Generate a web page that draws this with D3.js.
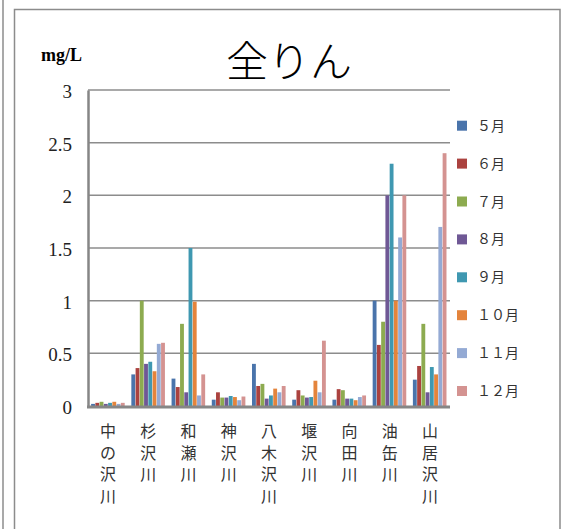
<!DOCTYPE html>
<html>
<head>
<meta charset="utf-8">
<script src="https://cdn.jsdelivr.net/npm/d3@7"></script>
<style>
  body { margin: 0; background: #fff; }
  svg { display: block; }
</style>
</head>
<body>
<svg id="chart" width="562" height="529"></svg>
<script>
// 河川名（カテゴリ）
const rivers = ["中の沢川", "杉沢川", "和瀬川", "神沢川", "八木沢川", "堰沢川", "向田川", "油缶川", "山居沢川"];
const months = ["５月", "６月", "７月", "８月", "９月", "１０月", "１１月", "１２月"];
const yTicks = [0, 0.5, 1, 1.5, 2, 2.5, 3];

// 各月の値（河川順）
const may = [0.02, 0.30, 0.26, 0.06, 0.40, 0.06, 0.06, 1.00, 0.25];
const jun = [0.03, 0.36, 0.18, 0.13, 0.19, 0.15, 0.16, 0.58, 0.38];
const jul = [0.04, 1.00, 0.78, 0.08, 0.21, 0.10, 0.15, 0.80, 0.78];
const aug = [0.02, 0.40, 0.13, 0.08, 0.07, 0.08, 0.07, 2.00, 0.13];
const sep = [0.03, 0.42, 1.50, 0.095, 0.10, 0.085, 0.07, 2.30, 0.37];
const oct = [0.04, 0.33, 0.99, 0.085, 0.165, 0.24, 0.055, 1.00, 0.30];
const nov = [0.02, 0.59, 0.10, 0.055, 0.13, 0.13, 0.085, 1.60, 1.70];
const dec = [0.03, 0.60, 0.30, 0.09, 0.19, 0.62, 0.10, 2.00, 2.40];

const series = [may, jun, jul, aug, sep, oct, nov, dec];
const colors = ["#4a74ab", "#ab423f", "#8dab50", "#6f5895", "#3f98b1", "#e4843c", "#94aad4", "#d49391"];

const svg = d3.select("#chart");

// 枠線
svg.append("line").attr("x1", 3).attr("x2", 3).attr("y1", 0).attr("y2", 529)
    .attr("stroke", "#8c8c8c").attr("stroke-width", 1.5);
svg.append("path")
    .attr("d", "M14.5,529 V9.5 H560 V529")
    .attr("fill", "none").attr("stroke", "#8c8c8c").attr("stroke-width", 1.5);

const plotLeft = 88, plotRight = 450, plotTop = 90, plotBottom = 406;

const x0 = d3.scaleBand().domain(rivers).range([plotLeft, plotRight]).paddingInner(0.155).paddingOuter(0.0775);
const x1 = d3.scaleBand().domain(d3.range(months.length)).range([0, x0.bandwidth()]);
const y = d3.scaleLinear().domain([0, 3]).range([plotBottom, plotTop]);

// グリッド線
svg.append("g")
    .selectAll("line")
    .data(yTicks.filter(d => d > 0))
    .enter()
    .append("line")
    .attr("x1", plotLeft).attr("x2", plotRight)
    .attr("y1", d => y(d)).attr("y2", d => y(d))
    .attr("stroke", "#8c8c8c").attr("stroke-width", 1.5);

// 棒
const groups = svg.append("g")
    .selectAll("g")
    .data(rivers)
    .enter()
    .append("g")
    .attr("transform", d => `translate(${x0(d)},0)`);

groups.selectAll("rect")
    .data((d, i) => series.map((s, j) => ({ m: j, v: s[i] })))
    .enter()
    .append("rect")
    .attr("x", d => x1(d.m))
    .attr("y", d => y(d.v))
    .attr("width", x1.bandwidth() - 0.4)
    .attr("height", d => y(0) - y(d.v))
    .attr("fill", d => colors[d.m]);

// 軸
const yAxis = svg.append("g")
    .attr("transform", `translate(${plotLeft},0)`)
    .call(d3.axisLeft(y).tickValues(yTicks).tickSize(0).tickPadding(16).tickFormat(d3.format("")));
yAxis.select(".domain").attr("stroke", "#868686").attr("stroke-width", 2.5);
yAxis.selectAll("text")
    .attr("font-family", "Liberation Serif, DejaVu Serif, serif")
    .attr("font-size", 19).attr("fill", "#222").attr("dy", "0.4em");

svg.append("line")
    .attr("x1", plotLeft - 1).attr("x2", plotRight)
    .attr("y1", plotBottom + 1).attr("y2", plotBottom + 1)
    .attr("stroke", "#868686").attr("stroke-width", 3);

// カテゴリラベル（縦書き）
const labels = svg.append("g")
    .selectAll("text")
    .data(rivers)
    .enter()
    .append("text")
    .attr("font-family", "Noto Sans CJK JP, sans-serif")
    .attr("font-size", 16).attr("fill", "#333")
    .attr("text-anchor", "middle");

labels.selectAll("tspan")
    .data(d => d.split(""))
    .enter()
    .append("tspan")
    .attr("x", function () { const r = d3.select(this.parentNode).datum(); return x0(r) + x0.bandwidth() / 2; })
    .attr("y", (d, i) => 437 + i * 21.5)
    .text(d => d);

// タイトル・単位
svg.append("text")
    .attr("x", 289).attr("y", 77)
    .attr("text-anchor", "middle")
    .attr("font-family", "Noto Sans CJK JP, sans-serif")
    .attr("font-weight", 300)
    .attr("font-size", 42).attr("fill", "#000")
    .text("全りん");

svg.append("text")
    .attr("x", 41).attr("y", 61)
    .attr("font-family", "Liberation Serif, serif")
    .attr("font-weight", "bold")
    .attr("font-size", 18).attr("fill", "#000")
    .text("mg/L");

// 凡例
const legend = svg.append("g")
    .selectAll("g")
    .data(months)
    .enter()
    .append("g")
    .attr("transform", (d, i) => `translate(457,${125.7 + i * 37.9})`);

legend.append("rect")
    .attr("x", 0).attr("y", -5).attr("width", 10).attr("height", 10)
    .attr("fill", (d, i) => colors[i]);

legend.append("text")
    .attr("x", 20).attr("y", 0).attr("dy", "0.36em")
    .attr("font-family", "Noto Sans CJK JP, sans-serif")
    .attr("font-size", 14).attr("fill", "#333")
    .text(d => d);
</script>
</body>
</html>
